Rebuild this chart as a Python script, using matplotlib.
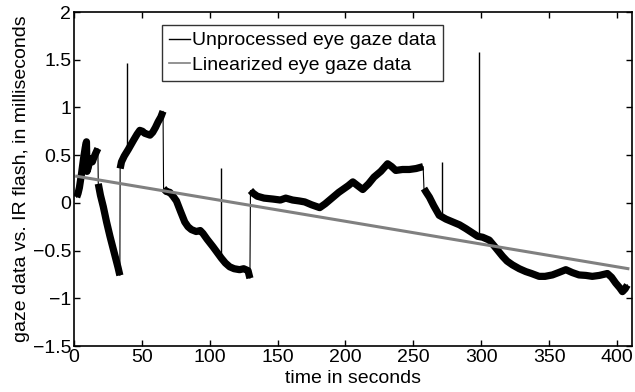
import matplotlib
matplotlib.use("Agg")
import matplotlib.pyplot as plt
from matplotlib.lines import Line2D
import numpy as np

plt.rcParams['font.family'] = ['Liberation Sans', 'DejaVu Sans']

# ---- data ----
seg1_t = [2.0, 3.0, 4.0, 5.5, 7.0, 8.3, 9.2, 9.6, 10.5, 11.5, 12.5, 13.5, 14.5, 16.0, 17.6]
seg1_v = [0.06, 0.10, 0.16, 0.30, 0.46, 0.58, 0.64, 0.33, 0.37, 0.44, 0.46, 0.43, 0.47, 0.52, 0.57]

seg2_t = [17.9, 19.5, 21.6, 24.0, 26.5, 28.5, 30.5, 32.5, 33.8]
seg2_v = [0.20, 0.08, -0.04, -0.20, -0.35, -0.46, -0.57, -0.68, -0.76]

seg3_t = [34.0, 35.0, 37.0, 40.0, 42.0, 44.0, 46.5, 48.5, 50.5, 52.0, 54.0, 56.0, 58.0,
          60.0, 62.0, 64.0, 65.6]
seg3_v = [0.36, 0.43, 0.49, 0.56, 0.61, 0.66, 0.72, 0.76, 0.75, 0.73, 0.72, 0.71, 0.74,
          0.79, 0.85, 0.90, 0.96]

seg4_t = [66.0, 68.0, 70.6, 73.0, 75.5, 78.5, 81.6, 84.0, 86.5, 90.0, 93.0, 95.0, 98.0,
          102.4, 105.5, 108.6, 111.5, 114.7, 118.0, 122.0, 125.0, 128.2, 129.6]
seg4_v = [0.15, 0.12, 0.11, 0.07, 0.02, -0.09, -0.20, -0.25, -0.28, -0.30, -0.29, -0.32,
          -0.38, -0.46, -0.52, -0.58, -0.63, -0.67, -0.69, -0.70, -0.69, -0.71, -0.79]

seg5_t = [130.0, 132.0, 135.0, 140.0, 146.6, 152.0, 156.0, 161.0, 166.0, 170.0, 175.0,
          181.0, 185.0, 190.0, 195.0, 199.0, 202.0, 205.4, 209.0, 212.7, 217.0, 221.0,
          226.0, 231.0, 234.0, 237.0, 242.0, 247.0, 252.0, 257.2]
seg5_v = [0.13, 0.10, 0.07, 0.05, 0.04, 0.03, 0.05, 0.03, 0.02, 0.01, -0.02,
          -0.05, -0.01, 0.05, 0.11, 0.15, 0.18, 0.22, 0.18, 0.14, 0.20, 0.27,
          0.33, 0.41, 0.38, 0.34, 0.35, 0.35, 0.36, 0.38]

seg6_t = [257.8, 259.5, 261.8, 265.0, 269.0, 274.0, 279.0, 284.0, 288.7, 293.0, 297.3,
          301.0, 305.9, 310.0, 315.7, 319.0, 323.0, 328.0, 332.8, 337.0, 342.6, 347.0,
          352.4, 357.0, 362.3, 367.0, 372.0, 377.0, 381.8, 387.0, 392.9, 396.0, 399.0,
          402.0, 404.0, 406.0, 407.6]
seg6_v = [0.15, 0.11, 0.06, -0.03, -0.13, -0.17, -0.20, -0.23, -0.27, -0.31, -0.35,
          -0.36, -0.39, -0.46, -0.56, -0.61, -0.65, -0.69, -0.72, -0.74, -0.77, -0.77,
          -0.755, -0.73, -0.70, -0.73, -0.755, -0.76, -0.77, -0.76, -0.74, -0.78, -0.84,
          -0.89, -0.93, -0.90, -0.86]

spike_t = [38.7, 108.6, 271.0, 298.5]
spike_low = [0.55, -0.58, -0.15, -0.33]
spike_high = [1.47, 0.37, 0.43, 1.58]

lin_t = [2.0, 408.0]
lin_v = [0.279, -0.689]

x_ticks = [0, 50, 100, 150, 200, 250, 300, 350, 400]
y_ticks = [-1.5, -1, -0.5, 0, 0.5, 1, 1.5, 2]
y_ticklabels = ['\u22121.5', '\u22121', '\u22120.5', '0', '0.5', '1', '1.5', '2']

labels = ['Unprocessed eye gaze data', 'Linearized eye gaze data']

# ---- figure ----
fig = plt.figure(figsize=(6.35, 3.92), dpi=100)
ax = fig.add_axes([0.1165, 0.1173, 0.8787, 0.852])

segments = [(seg1_t, seg1_v), (seg2_t, seg2_v), (seg3_t, seg3_v),
            (seg4_t, seg4_v), (seg5_t, seg5_v), (seg6_t, seg6_v)]

all_t = np.concatenate([s[0] for s in segments])
all_v = np.concatenate([s[1] for s in segments])
ax.plot(all_t, all_v, color='black', lw=0.8)
for t, v in segments:
    ax.plot(t, v, color='black', lw=5.2, solid_joinstyle='round',
            solid_capstyle='butt')
ax.vlines(spike_t, spike_low, spike_high, color='black', lw=1.0)

ax.plot(lin_t, lin_v, color='#808080', lw=2.2)

ax.set_xlim(0, 411)
ax.set_ylim(-1.5, 2)
ax.set_xticks(x_ticks)
ax.set_yticks(y_ticks)
ax.set_yticklabels(y_ticklabels)
ax.tick_params(direction='in', length=4, width=1.0, top=True, right=True,
               labelsize=14, pad=2, colors='black')
for sp in ax.spines.values():
    sp.set_linewidth(1.2)

ax.set_xlabel('time in seconds', fontsize=14, labelpad=3)
ax.set_ylabel('gaze data vs. IR flash, in milliseconds', fontsize=14, labelpad=2)

handles = [Line2D([], [], color='black', lw=1.0),
           Line2D([], [], color='#808080', lw=1.2)]
leg = ax.legend(handles, labels, loc='upper left', bbox_to_anchor=(0.158, 0.961),
                borderaxespad=0, fontsize=14, handlelength=1.1, handletextpad=0.1,
                borderpad=0.35, labelspacing=0.35, frameon=True, fancybox=False,
                edgecolor='black')
leg.get_frame().set_linewidth(1.0)

fig.savefig('out.png', dpi=100)
